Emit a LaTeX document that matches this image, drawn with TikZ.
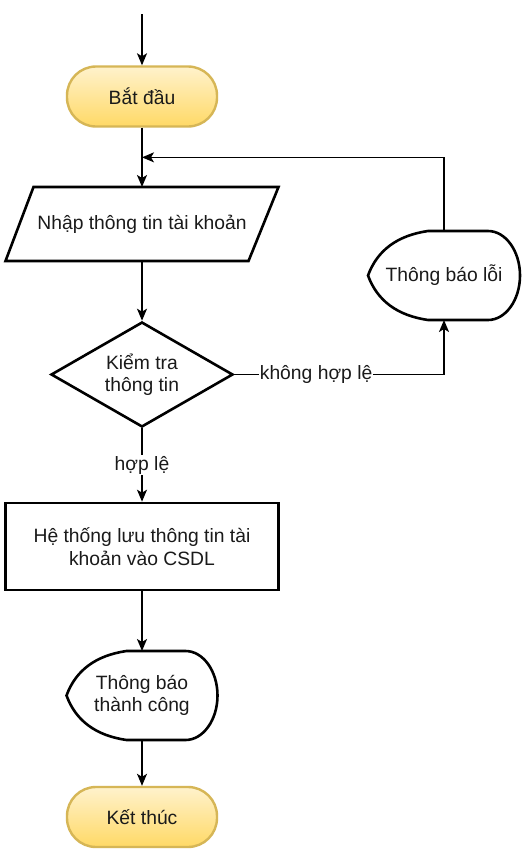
\documentclass[tikz,border=0pt]{standalone}
\usepackage{fontspec}
\setmainfont{Liberation Sans}
\usetikzlibrary{arrows.meta,shapes.geometric,calc}
\definecolor{ylfill}{HTML}{FFF2CC}
\definecolor{ylgrad}{HTML}{FFD966}
\definecolor{ylstroke}{HTML}{D6B656}
\definecolor{txt}{HTML}{1A1A1A}
\begin{document}
\begin{tikzpicture}[x=1pt,y=-1pt,
  font=\fontsize{19.3}{22.5}\selectfont, text=txt,
  shapeline/.style={line width=2.6pt, line join=miter},
  term/.style={draw=ylstroke, line width=2.4pt, top color=ylfill, bottom color=ylgrad,
    rectangle, rounded corners=29pt, minimum width=150pt, minimum height=60pt, inner sep=0pt},
  procbox/.style={draw, shapeline, rectangle, align=center, minimum width=273.5pt, minimum height=87pt, inner sep=0pt},
  plain/.style={inner sep=0pt, outer sep=0pt, align=center},
  arr/.style={line width=1.6pt, -{Stealth[length=12pt,width=10pt,inset=3pt]}},
  lbl/.style={fill=white, inner sep=1pt}]
\useasboundingbox[fill=white] (0,0) rectangle (524,852);

\coordinate (top) at (142,14);
\node[term] (start) at (142,96.5) {Bắt đầu};
\node[plain, minimum width=273pt, minimum height=74pt] (inp) at (142,224) {Nhập thông tin tài khoản};
\draw[shapeline] ($(inp.north west)+(28,0)$) -- (inp.north east) -- ($(inp.south east)+(-30,0)$) -- (inp.south west) -- cycle;

\node[draw, shapeline, diamond, shape aspect=1.73, minimum width=182pt, minimum height=105pt, inner sep=0pt, align=center] (chk) at (142,374.5) {Kiểm tra\\thông tin};

\node[plain, minimum width=152pt, minimum height=89pt] (err) at (444,275.5) {Thông báo lỗi};
\draw[shapeline] (err.west) .. controls ($(err.west)+(9.3,-25.3)$) and ($(err.north west)+(29.3,4.5)$) .. ($(err.north west)+(60,0)$)
  -- ($(err.north east)+(-32,0)$) .. controls ($(err.north east)+(-14.4,0)$) and ($(err.east)+(0,-24.5)$) .. (err.east)
  .. controls ($(err.east)+(0,24.5)$) and ($(err.south east)+(-14.4,0)$) .. ($(err.south east)+(-32,0)$)
  -- ($(err.south west)+(60,0)$) .. controls ($(err.south west)+(29.3,-4.5)$) and ($(err.west)+(9.3,25.3)$) .. (err.west) -- cycle;

\node[procbox] (save) at (142,546.5) {Hệ thống lưu thông tin tài\\khoản vào CSDL};

\node[plain, minimum width=151pt, minimum height=89pt] (ok) at (142,695.5) {Thông báo\\thành công};
\draw[shapeline] (ok.west) .. controls ($(ok.west)+(9.3,-25.3)$) and ($(ok.north west)+(29.3,4.5)$) .. ($(ok.north west)+(60,0)$)
  -- ($(ok.north east)+(-32,0)$) .. controls ($(ok.north east)+(-14.4,0)$) and ($(ok.east)+(0,-24.5)$) .. (ok.east)
  .. controls ($(ok.east)+(0,24.5)$) and ($(ok.south east)+(-14.4,0)$) .. ($(ok.south east)+(-32,0)$)
  -- ($(ok.south west)+(60,0)$) .. controls ($(ok.south west)+(29.3,-4.5)$) and ($(ok.west)+(9.3,25.3)$) .. (ok.west) -- cycle;

\node[term] (end) at (142,817) {Kết thúc};

\coordinate (loop) at ($(start.south)!0.5!(inp.north)$);

\draw[arr] (top) -- (start.north);
\draw[arr] (start.south) -- (inp.north);
\draw[arr] (inp.south) -- (chk.north);
\draw[arr] (chk.south) -- node[lbl]{hợp lệ} (save.north);
\draw[arr] (chk.east) -- node[lbl, pos=0.39]{không hợp lệ} (err.south |- chk.east) -- (err.south);
\draw[arr] (err.north) |- (loop);
\draw[arr] (save.south) -- (ok.north);
\draw[arr] (ok.south) -- (end.north);
\end{tikzpicture}
\end{document}
